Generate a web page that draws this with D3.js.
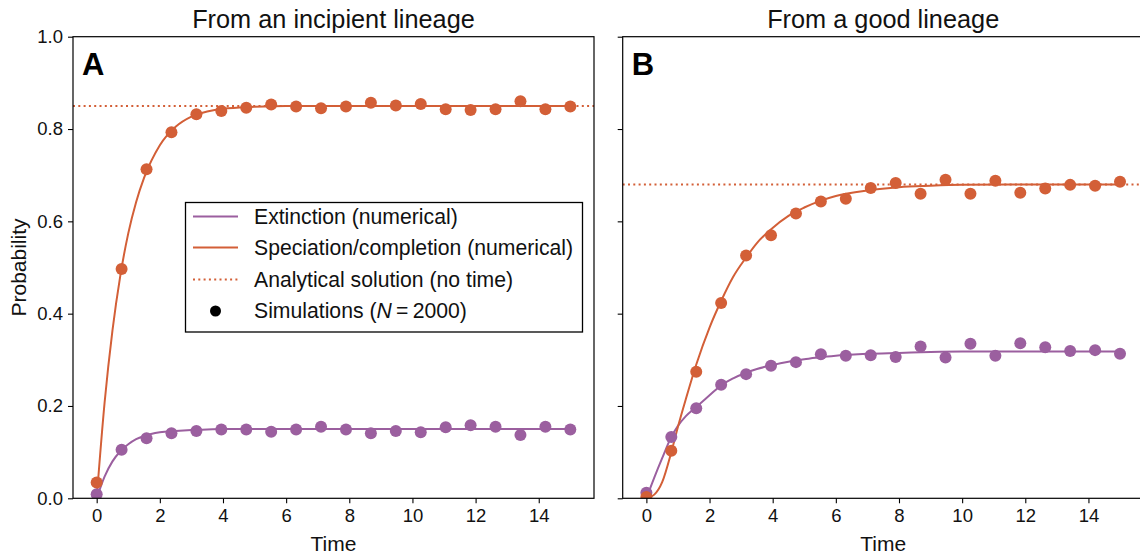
<!DOCTYPE html>
<html>
<head>
<meta charset="utf-8">
<script src="https://cdn.jsdelivr.net/npm/d3@7"></script>
<style>
  html, body { margin: 0; padding: 0; background: #fff; }
  svg { display: block; font-family: "Liberation Sans", Arial, sans-serif; }
</style>
</head>
<body>
<svg id="fig" width="1140" height="554"></svg>
<script>
// Simulation sample times (20 evenly spaced points from 0 to 15)
const simTimes = [0, 0.789, 1.579, 2.368, 3.158, 3.947, 4.737, 5.526, 6.316, 7.105,
                  7.895, 8.684, 9.474, 10.263, 11.053, 11.842, 12.632, 13.421, 14.211, 15];

// Panel A: from an incipient lineage
const simExtA = [0.009, 0.105, 0.130, 0.141, 0.146, 0.149, 0.149, 0.144, 0.149, 0.155,
                 0.149, 0.141, 0.146, 0.143, 0.154, 0.158, 0.155, 0.137, 0.155, 0.149];
const simSpecA = [0.034, 0.497, 0.713, 0.793, 0.832, 0.839, 0.846, 0.853, 0.849, 0.845,
                  0.849, 0.857, 0.851, 0.854, 0.843, 0.841, 0.843, 0.860, 0.843, 0.849];
const curveTimesA = [0, 0.25, 0.5, 0.75, 1.0, 1.25, 1.5, 2.0, 2.5, 3.0, 3.5, 4.0, 5.0, 6.0, 8.0, 10.0, 15.0];
const numExtA  = [0, 0.047, 0.080, 0.102, 0.117, 0.128, 0.135, 0.143, 0.146, 0.148, 0.149, 0.150, 0.150, 0.150, 0.150, 0.150, 0.150];
const numSpecA = [0, 0.207, 0.364, 0.483, 0.574, 0.642, 0.694, 0.765, 0.805, 0.827, 0.838, 0.844, 0.848, 0.850, 0.850, 0.850, 0.850];
const analyticA = 0.85;

// Panel B: from a good lineage
const simExtB = [0.012, 0.133, 0.195, 0.246, 0.269, 0.287, 0.295, 0.312, 0.309, 0.310,
                 0.306, 0.329, 0.305, 0.335, 0.309, 0.336, 0.327, 0.319, 0.321, 0.313];
const simSpecB = [0.003, 0.103, 0.274, 0.423, 0.526, 0.570, 0.617, 0.643, 0.649, 0.672,
                  0.683, 0.660, 0.690, 0.660, 0.688, 0.662, 0.671, 0.679, 0.677, 0.686];
const curveTimesB = [0, 0.25, 0.5, 0.79, 1.0, 1.25, 1.58, 2.0, 2.37, 2.75, 3.16, 3.5, 3.95, 4.5, 5.0, 5.53, 6.0, 7.0, 8.0, 9.0, 10.0, 12.0, 15.0];
const numExtB  = [0, 0.045, 0.087, 0.133, 0.157, 0.178, 0.198, 0.223, 0.245, 0.260, 0.272, 0.280, 0.288, 0.296, 0.301, 0.306, 0.309, 0.313, 0.315, 0.317, 0.318, 0.318, 0.318];
const numSpecB = [0, 0.008, 0.035, 0.100, 0.155, 0.215, 0.290, 0.370, 0.428, 0.480, 0.522, 0.553, 0.583, 0.612, 0.630, 0.645, 0.655, 0.667, 0.674, 0.677, 0.679, 0.680, 0.680];
const analyticB = 0.68;

const panelTitles = ["From an incipient lineage", "From a good lineage"];
const panelLetters = ["A", "B"];
const xTicks = [0, 2, 4, 6, 8, 10, 12, 14];
const yTicks = [0.0, 0.2, 0.4, 0.6, 0.8, 1.0];
const legendLabels = ["Extinction (numerical)", "Speciation/completion (numerical)",
                      "Analytical solution (no time)", "Simulations"];

const colExt = "#9b5f9f";
const colSpec = "#d35f37";

const svg = d3.select("#fig");

const plotTop = 36.7, plotBottom = 498.3;
const panelW = 521;
const panelLefts = [73, 622.7];

const panels = [
  { simExt: simExtA, simSpec: simSpecA, ct: curveTimesA, ext: numExtA, spec: numSpecA, analytic: analyticA },
  { simExt: simExtB, simSpec: simSpecB, ct: curveTimesB, ext: numExtB, spec: numSpecB, analytic: analyticB }
];

const y = d3.scaleLinear().domain([0, 1]).range([plotBottom, plotTop]);

panels.forEach((p, i) => {
  const left = panelLefts[i];
  const x = d3.scaleLinear().domain([-0.75, 15.75]).range([left, left + panelW]);
  const g = svg.append("g");

  const clipId = "clip" + i;
  svg.append("clipPath").attr("id", clipId)
    .append("rect").attr("x", left).attr("y", plotTop).attr("width", panelW).attr("height", plotBottom - plotTop);

  const plot = g.append("g").attr("clip-path", `url(#${clipId})`);

  const line = d3.line().x(d => x(d[0])).y(d => y(d[1])).curve(d3.curveMonotoneX);

  // Numerical solutions
  plot.append("path").datum(p.ct.map((t, k) => [t, p.ext[k]]))
    .attr("d", line).attr("fill", "none").attr("stroke", colExt).attr("stroke-width", 2);
  plot.append("path").datum(p.ct.map((t, k) => [t, p.spec[k]]))
    .attr("d", line).attr("fill", "none").attr("stroke", colSpec).attr("stroke-width", 2);

  // Analytical (time-independent) solution
  plot.append("line")
    .attr("x1", left).attr("x2", left + panelW)
    .attr("y1", y(p.analytic)).attr("y2", y(p.analytic))
    .attr("stroke", colSpec).attr("stroke-width", 2).attr("stroke-dasharray", "2,3.3");

  // Simulation points
  plot.selectAll("circle.ext").data(simTimes.map((t, k) => [t, p.simExt[k]])).enter()
    .append("circle").attr("class", "ext")
    .attr("cx", d => x(d[0])).attr("cy", d => y(d[1])).attr("r", 6).attr("fill", colExt);
  plot.selectAll("circle.spec").data(simTimes.map((t, k) => [t, p.simSpec[k]])).enter()
    .append("circle").attr("class", "spec")
    .attr("cx", d => x(d[0])).attr("cy", d => y(d[1])).attr("r", 6).attr("fill", colSpec);

  // Axes
  const xAxis = d3.axisBottom(x).tickValues(xTicks).tickSize(5).tickPadding(6).tickFormat(d3.format("d"));
  const gx = g.append("g").attr("transform", `translate(0,${plotBottom})`).call(xAxis);
  const yAxis = d3.axisLeft(y).tickValues(yTicks).tickSize(5).tickPadding(5).tickFormat(d3.format(".1f"));
  const gy = g.append("g").attr("transform", `translate(${left},0)`).call(yAxis);
  if (i === 1) gy.selectAll("text").remove();
  [gx, gy].forEach(a => {
    a.select(".domain").remove();
    a.selectAll("line").attr("stroke", "#000").attr("stroke-width", 1.1);
    a.selectAll("text").attr("fill", "#111").style("font-size", "18.5px");
  });

  // Frame
  g.append("rect").attr("x", left).attr("y", plotTop).attr("width", panelW).attr("height", plotBottom - plotTop)
    .attr("fill", "none").attr("stroke", "#000").attr("stroke-width", 1.2);

  // Title, panel letter, x label
  g.append("text").attr("x", left + panelW / 2).attr("y", 28)
    .attr("text-anchor", "middle").style("font-size", "25.3px").attr("fill", "#111").text(panelTitles[i]);
  g.append("text").attr("x", left + 9).attr("y", 75)
    .style("font-size", "31px").style("font-weight", "bold").attr("fill", "#000").text(panelLetters[i]);
  g.append("text").attr("x", left + panelW / 2).attr("y", 550.5)
    .attr("text-anchor", "middle").style("font-size", "21px").attr("fill", "#111").text("Time");
});

// Y axis label
svg.append("text").attr("transform", "translate(26,267.5) rotate(-90)")
  .attr("text-anchor", "middle").style("font-size", "21px").attr("fill", "#111").text("Probability");

// Legend
const leg = svg.append("g");
leg.append("rect").attr("x", 185.5).attr("y", 202.5).attr("width", 397).attr("height", 129.5)
  .attr("fill", "#fff").attr("stroke", "#000").attr("stroke-width", 1.3);
const rowY = [216.5, 247.5, 279.5, 311];
const hx1 = 193, hx2 = 238, tx = 254;
leg.append("line").attr("x1", hx1).attr("x2", hx2).attr("y1", rowY[0]).attr("y2", rowY[0])
  .attr("stroke", colExt).attr("stroke-width", 2);
leg.append("line").attr("x1", hx1).attr("x2", hx2).attr("y1", rowY[1]).attr("y2", rowY[1])
  .attr("stroke", colSpec).attr("stroke-width", 2);
leg.append("line").attr("x1", hx1).attr("x2", hx2).attr("y1", rowY[2]).attr("y2", rowY[2])
  .attr("stroke", colSpec).attr("stroke-width", 2).attr("stroke-dasharray", "2,3.3");
leg.append("circle").attr("cx", (hx1 + hx2) / 2).attr("cy", rowY[3]).attr("r", 5.5).attr("fill", "#000");
legendLabels.forEach((lab, k) => {
  const t = leg.append("text").attr("x", tx).attr("y", rowY[k]).attr("dy", "0.35em")
    .style("font-size", "21.2px").attr("fill", "#111");
  if (k === 3) {
    t.append("tspan").text(lab + " (");
    t.append("tspan").style("font-style", "italic").text("N");
    t.append("tspan").text("\u2009=\u20092000)");
  } else {
    t.text(lab);
  }
});
</script>
</body>
</html>
